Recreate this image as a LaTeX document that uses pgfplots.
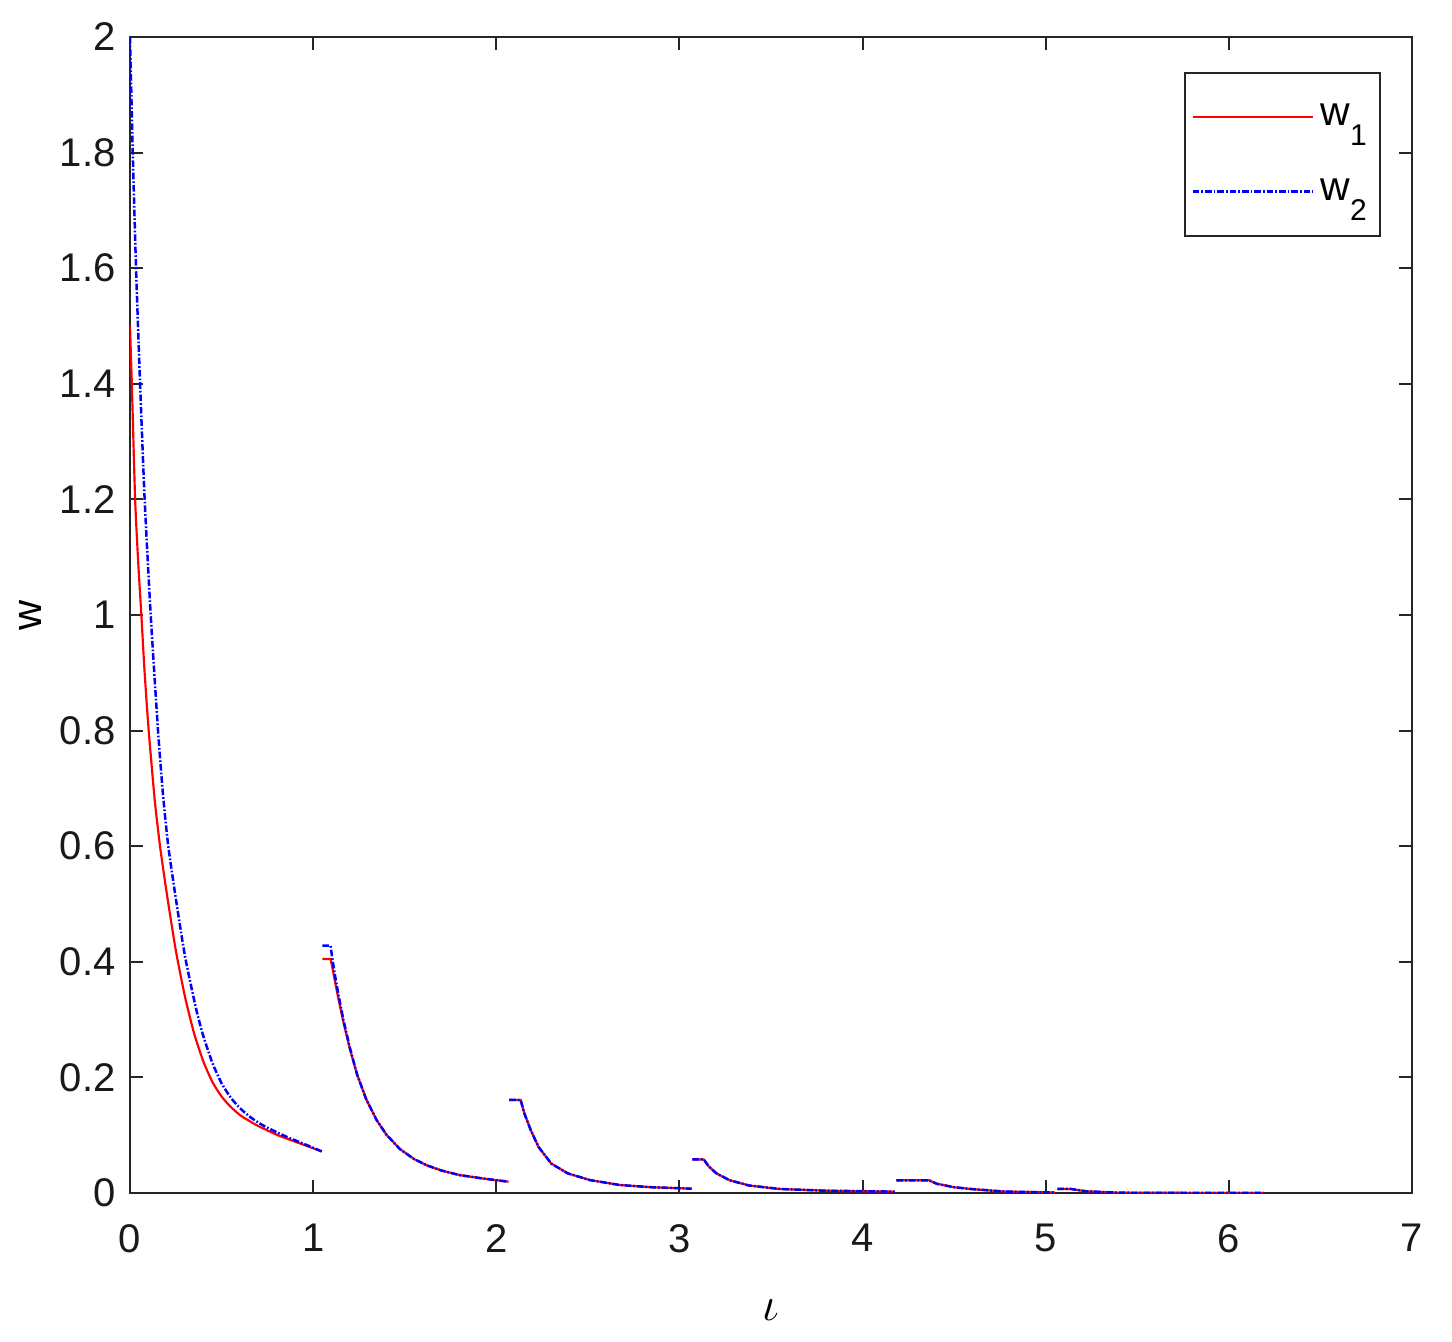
\documentclass[border=0pt]{standalone}
\usepackage{fontspec}
\setmainfont{Liberation Sans}
\usepackage{pgfplots}
\pgfplotsset{compat=1.18}
\definecolor{axgray}{gray}{0.15}
\newcommand{\wsub}[1]{w\raisebox{-6pt}{\fontsize{9}{9}\selectfont #1}}
\begin{document}
\begin{tikzpicture}
\begin{axis}[
  scale only axis,
  width=384.6pt, height=346.8pt,
  xmin=0, xmax=7, ymin=0, ymax=2,
  xtick={0,1,2,3,4,5,6,7},
  ytick={0,0.2,0.4,0.6,0.8,1,1.2,1.4,1.6,1.8,2},
  yticklabels={0,0.2,0.4,0.6,0.8,1,1.2,1.4,1.6,1.8,2},
  xticklabels={0,1,2,3,4,5,6,7},
  tick align=inside,
  major tick length=3.9pt,
  axis line style={axgray, line width=0.6pt},
  every tick/.style={axgray, line width=0.6pt},
  tick label style={font=\fontsize{12}{14}\selectfont, color=black!90},
  xticklabel style={yshift=-5.8pt},
  yticklabel style={xshift=-0.8pt},
  xlabel={$\iota$},
  xlabel style={at={(axis description cs:0.5,-0.101)}, anchor=center, font=\fontsize{15}{17}\selectfont},
  ylabel={w},
  ylabel style={at={(axis description cs:-0.078,0.5)}, anchor=center, font=\fontsize{12.5}{14}\selectfont},
  legend style={at={(axis description cs:0.976,0.970)}, anchor=north east, draw=axgray, line width=0.6pt,
    font=\fontsize{12.3}{14}\selectfont, inner xsep=2pt, inner ysep=7.3pt, row sep=10.4pt},
  legend cell align=left,
  legend image code/.code={\draw[#1] (0pt,0pt) -- (36pt,0pt);},
]
% Segment 1
\addplot[red, line width=0.65pt, smooth, tension=0.35] coordinates {
(0,1.5) (0.01,1.4) (0.028,1.2) (0.045,1.09) (0.062,1.0) (0.08,0.9) (0.102,0.8)
(0.135,0.68) (0.164,0.6) (0.2,0.52) (0.25,0.42) (0.3,0.34) (0.35,0.276) (0.4,0.228)
(0.45,0.192) (0.5,0.167) (0.55,0.149) (0.6,0.135) (0.65,0.125) (0.7,0.116) (0.8,0.101)
(0.9,0.089) (1.047,0.072)};
\addlegendentry{\wsub{1}}
\addplot[blue, line width=0.75pt, dash pattern=on 2pt off 0.6pt on 0.5pt off 0.6pt, smooth, tension=0.35] coordinates {
(0,2.0) (0.015,1.8) (0.033,1.6) (0.055,1.4) (0.08,1.2) (0.113,1.0) (0.153,0.8)
(0.18,0.69) (0.209,0.6) (0.25,0.51) (0.3,0.41) (0.36,0.32) (0.4,0.272) (0.45,0.225)
(0.5,0.19) (0.55,0.165) (0.6,0.147) (0.65,0.133) (0.7,0.122) (0.75,0.113) (0.85,0.098)
(0.95,0.085) (1.047,0.072)};
\addlegendentry{\wsub{2}}
% Segment 2
\addplot[red, line width=0.65pt, forget plot] coordinates {
(1.05,0.405) (1.095,0.405) (1.105,0.39) (1.12,0.365) (1.14,0.333) (1.165,0.296) (1.2,0.25)
(1.24,0.205) (1.29,0.162) (1.347,0.126) (1.40,0.101) (1.474,0.076) (1.55,0.059)
(1.62,0.048) (1.7,0.039) (1.8,0.031) (1.93,0.025) (2.066,0.0196)};
\addplot[blue, line width=0.75pt, dash pattern=on 2pt off 0.6pt on 0.5pt off 0.6pt, forget plot] coordinates {
(1.05,0.428) (1.095,0.428) (1.105,0.405) (1.12,0.375) (1.14,0.34) (1.165,0.30) (1.2,0.252)
(1.24,0.205) (1.29,0.162) (1.347,0.126) (1.40,0.101) (1.474,0.076) (1.55,0.059)
(1.62,0.048) (1.7,0.039) (1.8,0.031) (1.93,0.025) (2.066,0.0196)};
% Segment 3
\addplot[red, line width=0.65pt, forget plot] coordinates {
(2.07,0.161) (2.133,0.161) (2.153,0.138) (2.188,0.109) (2.23,0.080) (2.30,0.051)
(2.39,0.034) (2.51,0.0225) (2.675,0.0138) (2.85,0.010) (3.067,0.0075)};
\addplot[blue, line width=0.75pt, dash pattern=on 2pt off 0.6pt on 0.5pt off 0.6pt, forget plot] coordinates {
(2.07,0.161) (2.133,0.161) (2.153,0.138) (2.188,0.109) (2.23,0.080) (2.30,0.051)
(2.39,0.034) (2.51,0.0225) (2.675,0.0138) (2.85,0.010) (3.067,0.0075)};
% Segment 4
\addplot[red, line width=0.65pt, forget plot] coordinates {
(3.07,0.058) (3.133,0.058) (3.16,0.046) (3.202,0.034) (3.275,0.022) (3.38,0.013)
(3.547,0.007) (3.8,0.004) (4.175,0.0024)};
\addplot[blue, line width=0.75pt, dash pattern=on 2pt off 0.6pt on 0.5pt off 0.6pt, forget plot] coordinates {
(3.07,0.058) (3.133,0.058) (3.16,0.046) (3.202,0.034) (3.275,0.022) (3.38,0.013)
(3.547,0.007) (3.8,0.004) (4.175,0.0024)};
% Segment 5
\addplot[red, line width=0.65pt, forget plot] coordinates {
(4.185,0.022) (4.363,0.022) (4.405,0.016) (4.5,0.010) (4.59,0.007) (4.78,0.0024) (5.05,0.001)};
\addplot[blue, line width=0.75pt, dash pattern=on 2pt off 0.6pt on 0.5pt off 0.6pt, forget plot] coordinates {
(4.185,0.022) (4.363,0.022) (4.405,0.016) (4.5,0.010) (4.59,0.007) (4.78,0.0024) (5.05,0.001)};
% Segment 6
\addplot[red, line width=0.65pt, forget plot] coordinates {
(5.063,0.007) (5.137,0.007) (5.22,0.003) (5.40,0.0005) (6.19,0.0001)};
\addplot[blue, line width=0.75pt, dash pattern=on 2pt off 0.6pt on 0.5pt off 0.6pt, forget plot] coordinates {
(5.063,0.007) (5.137,0.007) (5.22,0.003) (5.40,0.0005) (6.19,0.0001)};
\end{axis}
\path (current axis.south west) ++(-39pt,-44.4pt) coordinate (bl);
\path (current axis.south west) ++(396.6pt,357.9pt) coordinate (tr);
\path (bl) rectangle (tr);
\end{tikzpicture}
\end{document}
